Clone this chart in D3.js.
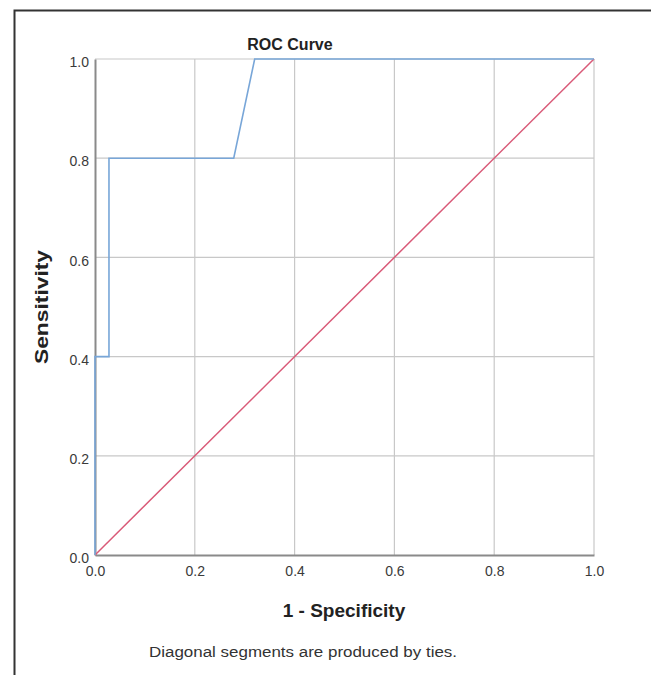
<!DOCTYPE html>
<html>
<head>
<meta charset="utf-8">
<script src="https://cdn.jsdelivr.net/npm/d3@7"></script>
<style>
  body { margin: 0; background: #fff; }
  text { font-family: Arial, "Liberation Sans", sans-serif; }
</style>
</head>
<body>
<svg id="chart" width="651" height="675"></svg>
<script>
// roc points
var fpr = [0, 0, 0.028, 0.028, 0.278, 0.32, 1];
var tpr = [0, 0.4, 0.4, 0.8, 0.8, 1, 1];
var refLine = [0, 1];
var ticks = [0, 0.2, 0.4, 0.6, 0.8, 1.0];

var svg = d3.select('#chart');
var pLeft = 95, pRight = 594, pTop = 59, pBottom = 555;

var x = d3.scaleLinear().domain([0, 1]).range([pLeft, pRight]);
var y = d3.scaleLinear().domain([0, 1]).range([pBottom, pTop]);

// frame round the picture
svg.append('path')
  .attr('d', 'M14.5,675V10.5H651')
  .attr('fill', 'none')
  .attr('stroke', '#333')
  .attr('stroke-width', 2);

// grid
svg.append('g').selectAll('line').data(ticks.slice(1)).enter().append('line')
  .attr('x1', function(d){ return x(d); }).attr('x2', function(d){ return x(d); })
  .attr('y1', pTop).attr('y2', pBottom)
  .attr('stroke', '#c8c8c8').attr('stroke-width', 1.2);
svg.append('g').selectAll('line').data(ticks.slice(1)).enter().append('line')
  .attr('y1', function(d){ return y(d); }).attr('y2', function(d){ return y(d); })
  .attr('x1', pLeft).attr('x2', pRight)
  .attr('stroke', '#c8c8c8').attr('stroke-width', 1.2);

// axes
var xAxis = svg.append('g').attr('transform', 'translate(0,' + pBottom + ')')
  .call(d3.axisBottom(x).tickValues(ticks).tickFormat(d3.format('.1f')).tickSize(0).tickPadding(11));
var yAxis = svg.append('g').attr('transform', 'translate(' + pLeft + ',0)')
  .call(d3.axisLeft(y).tickValues(ticks).tickFormat(d3.format('.1f')).tickSize(0).tickPadding(6));
[xAxis, yAxis].forEach(function(a){
  a.select('.domain').attr('stroke', '#8a8a8a').attr('stroke-width', 2);
  a.selectAll('text').attr('font-size', 14).attr('fill', '#3a3a3a').attr('font-family', 'Arial, "Liberation Sans", sans-serif');
});
yAxis.selectAll('text').attr('dy', '0.55em');

// reference diagonal
svg.append('line')
  .attr('x1', x(refLine[0])).attr('y1', y(refLine[0]))
  .attr('x2', x(refLine[1])).attr('y2', y(refLine[1]))
  .attr('stroke', '#d95a78').attr('stroke-width', 1.5);

// roc curve
var line = d3.line()
  .x(function(d){ return x(d[0]); })
  .y(function(d){ return y(d[1]); });
svg.append('path')
  .datum(d3.zip(fpr, tpr))
  .attr('d', line)
  .attr('fill', 'none')
  .attr('stroke', '#78a6d8')
  .attr('stroke-width', 1.6);

// texts
svg.append('text').attr('x', 290).attr('y', 50).attr('text-anchor', 'middle')
  .attr('font-size', 16).attr('font-weight', 'bold').attr('fill', '#222').text('ROC Curve');
svg.append('text').attr('x', 344).attr('y', 617).attr('text-anchor', 'middle')
  .attr('font-size', 19).attr('font-weight', 'bold').attr('fill', '#222').text('1 - Specificity');
svg.append('text').attr('transform', 'translate(48,307) rotate(-90)').attr('text-anchor', 'middle')
  .attr('font-size', 19).attr('font-weight', 'bold').attr('fill', '#222')
  .attr('textLength', 114).attr('lengthAdjust', 'spacingAndGlyphs').text('Sensitivity');
svg.append('text').attr('x', 303).attr('y', 657).attr('text-anchor', 'middle')
  .attr('font-size', 14).attr('fill', '#333')
  .attr('textLength', 308).attr('lengthAdjust', 'spacingAndGlyphs').text('Diagonal segments are produced by ties.');
</script>
</body>
</html>
